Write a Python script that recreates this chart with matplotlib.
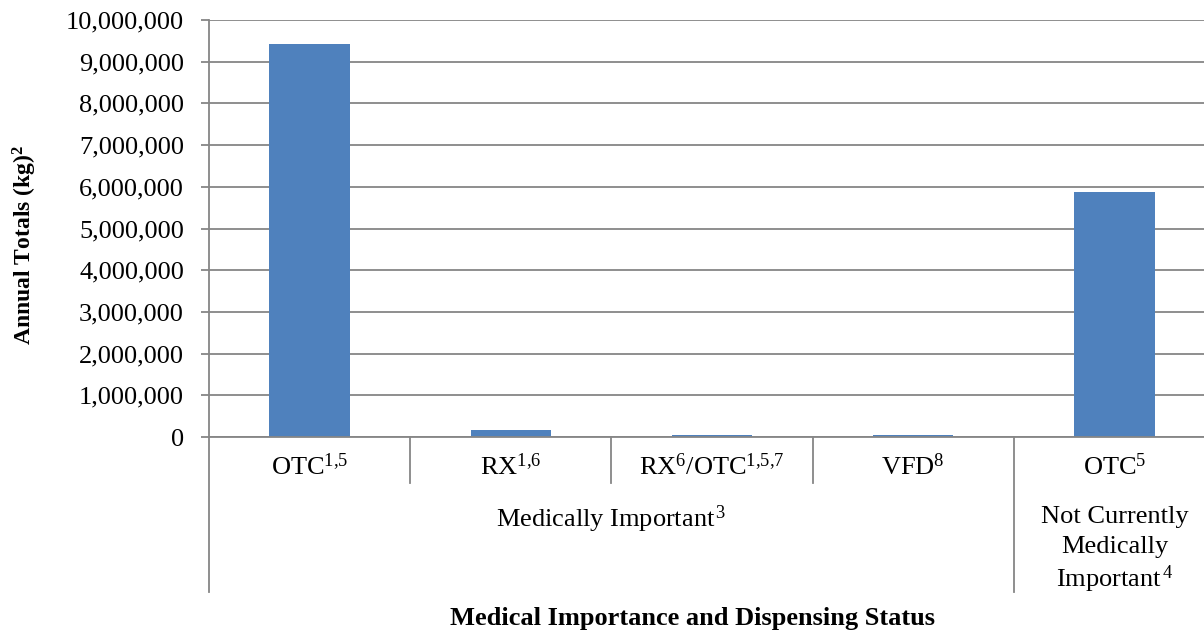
import matplotlib
matplotlib.use("Agg")
import matplotlib.pyplot as plt
import matplotlib.transforms as mtransforms
from matplotlib.ticker import FuncFormatter

plt.rcParams['font.family'] = ['Liberation Serif', 'DejaVu Serif']
plt.rcParams['mathtext.fontset'] = 'custom'
plt.rcParams['mathtext.rm'] = 'Liberation Serif'
plt.rcParams['mathtext.it'] = 'Liberation Serif:italic'
plt.rcParams['mathtext.bf'] = 'Liberation Serif:bold'

# ---- data ----
categories = [r"OTC$^{1{,}5}$", r"RX$^{1{,}6}$", r"RX$^{6}$/OTC$^{1{,}5{,}7}$", r"VFD$^{8}$", r"OTC$^{5}$"]
values = [9420000, 160000, 40000, 40000, 5880000]
groups = [r"Medically Important$^{\,3}$", "Not Currently\nMedically\n" + r"Important$^{\,4}$"]
group_sizes = [4, 1]
y_ticks = list(range(0, 10000001, 1000000))
y_label = r"Annual Totals (kg)$^{\mathbf{2}}$"
x_label = "Medical Importance and Dispensing Status"

W, H = 1204, 631
fig = plt.figure(figsize=(W / 100, H / 100), dpi=100)
ax_left, ax_right, ax_top, ax_bottom = 209, 1215, 20, 437
ax = fig.add_axes([ax_left / W, 1 - ax_bottom / H, (ax_right - ax_left) / W, (ax_bottom - ax_top) / H])

grid_c = '#868686'
bar_c = '#4F81BD'
fs = 19

x = list(range(len(values)))
ax.bar(x, values, width=0.40, color=bar_c, zorder=3)
ax.set_xlim(-0.5, len(values) - 0.5)
ax.set_ylim(0, 10000000)
ax.set_yticks(y_ticks)
ax.yaxis.set_major_formatter(FuncFormatter(lambda v, p: f"{int(v):,}"))
ax.grid(axis='y', color=grid_c, linewidth=1.3, zorder=0)
ax.set_axisbelow(True)
for s in ['top', 'right']:
    ax.spines[s].set_visible(False)
ax.spines['left'].set_color(grid_c)
ax.spines['left'].set_linewidth(1.3)
ax.spines['bottom'].set_color(grid_c)
ax.spines['bottom'].set_linewidth(1.3)
ax.spines['bottom'].set_zorder(4)
ax.tick_params(axis='y', length=6, width=1.3, color=grid_c, labelsize=fs, pad=12)
ax.tick_params(axis='x', length=0, labelbottom=False)

ah = ax_bottom - ax_top
trans = mtransforms.blended_transform_factory(ax.transData, ax.transAxes)

def yf(px):
    return -(px - ax_bottom) / ah

# level-1 labels
for i, c in enumerate(categories):
    ax.text(i, yf(467), c, transform=trans, ha='center', va='center', fontsize=fs, clip_on=False)

# short dividers between categories inside groups, long dividers between groups
bounds = [-0.5]
pos = -0.5
for g in group_sizes:
    pos += g
    bounds.append(pos)
for b in [i + 0.5 for i in range(len(values) - 1)]:
    if b not in bounds:
        ax.plot([b, b], [0, yf(483)], transform=trans, color=grid_c, lw=1.3, clip_on=False)
for b in bounds:
    ax.plot([b, b], [0, yf(592)], transform=trans, color=grid_c, lw=1.3, clip_on=False)

# group labels (each line placed separately)
start = -0.5
for g, n in zip(groups, group_sizes):
    cx = start + n / 2
    lines = g.split("\n")
    ys = [515 + 30 * k for k in range(len(lines))]
    for ln, yy in zip(lines, ys):
        ax.text(cx, yf(yy), ln, transform=trans, ha='center', va='center_baseline',
                fontsize=fs, clip_on=False)
    start += n

fig.text(693 / W, 1 - 618 / H, x_label, ha='center', va='center', fontsize=fs, fontweight='bold')
fig.text(25 / W, 1 - 245 / H, y_label, ha='center', va='center', fontsize=17, fontweight='bold',
         rotation=90)

fig.savefig("out.png", dpi=100)
